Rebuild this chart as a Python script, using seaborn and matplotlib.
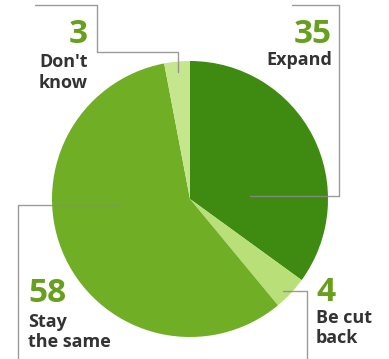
import matplotlib
matplotlib.use("Agg")
import matplotlib.pyplot as plt
import seaborn as sns

# ---- data ----
categories = ["Expand", "Be cut back", "Stay the same", "Don't know"]
values = [35, 4, 58, 3]
label_lines = [["Expand"], ["Be cut", "back"], ["Stay", "the same"], ["Don't", "know"]]

# ---- style ----
sns.set_theme(style="white")
plt.rcParams['font.family'] = ['Open Sans', 'DejaVu Sans']
colors = sns.color_palette(["#3f8b12", "#b9df78", "#6fae25", "#c6e68e"])
num_color = "#68a01e"
txt_color = "#333333"
line_color = "#8a8a8a"

W, H = 389, 359
fig = plt.figure(figsize=(W / 100, H / 100), dpi=100)
ax = fig.add_axes([0, 0, 1, 1])

def Y(y):
    return H - y

ax.pie(values, colors=colors, startangle=90, counterclock=False,
       center=(190, Y(199)), radius=138, wedgeprops=dict(linewidth=0))
ax.set_xlim(0, W)
ax.set_ylim(0, H)
ax.set_aspect("equal")
ax.axis("off")

# leader lines (pixel layout, top-based)
leaders = [
    [(35, 5), (97, 5), (97, 52), (178, 52), (178, 72)],
    [(292, 5), (339, 5), (339, 196), (250, 196)],
    [(120, 205), (18, 205), (18, 359)],
    [(283, 291), (307, 291), (307, 359)],
]
for pts in leaders:
    xs = [p[0] for p in pts]
    ys = [Y(p[1]) for p in pts]
    ax.plot(xs, ys, color=line_color, lw=1.0, alpha=0.85, zorder=5)

# text layout: (x, ha, number baseline, label baselines)
layout = {
    "Expand": (332, "right", 43, [65]),
    "Be cut back": (316, "left", 301, [323, 343]),
    "Stay the same": (28, "left", 302, [327, 347]),
    "Don't know": (88, "right", 43, [67, 88]),
}
for cat, val, lines in zip(categories, values, label_lines):
    x, ha, nb, lbs = layout[cat]
    ax.text(x, Y(nb), str(val), ha=ha, va="baseline", fontsize=24,
            fontweight="bold", color=num_color)
    for ln, b in zip(lines, lbs):
        ax.text(x, Y(b), ln, ha=ha, va="baseline", fontsize=13,
                fontweight="bold", color=txt_color)

fig.savefig("out.png", dpi=100)
